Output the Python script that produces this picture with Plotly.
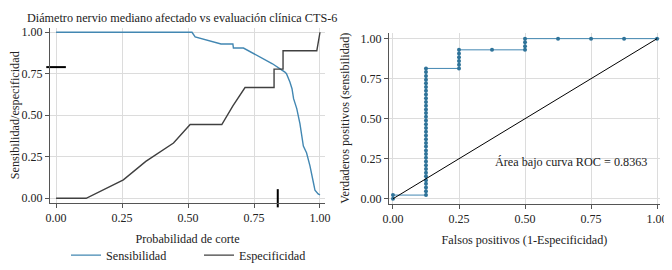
import plotly.graph_objects as go

# ---- Left panel data: sensitivity / specificity vs cutoff probability ----
sens_cut = [0.0, 0.515, 0.527, 0.625, 0.67, 0.672, 0.71, 0.82, 0.867, 0.873, 0.886, 0.894,
            0.9, 0.912, 0.924, 0.93, 0.937, 0.949, 0.962, 0.975, 0.981, 0.993, 1.0]
sens_val = [1.0, 1.0, 0.972, 0.929, 0.929, 0.905, 0.905, 0.81, 0.76, 0.75, 0.70, 0.66,
            0.60, 0.54, 0.45, 0.39, 0.314, 0.274, 0.195, 0.095, 0.048, 0.026, 0.02]

spec_cut = [0.0, 0.114, 0.255, 0.34, 0.445, 0.508, 0.628, 0.67, 0.716, 0.826, 0.826,
            0.86, 0.86, 0.988, 1.0]
spec_val = [0.0, 0.0, 0.111, 0.222, 0.333, 0.444, 0.444, 0.556, 0.667, 0.667, 0.778,
            0.778, 0.889, 0.889, 1.0]

optimal_cut = 0.84
crossing_value = 0.79

# ---- Right panel data: ROC curve ----
roc_fpr = [0.0, 0.0,
           0.125, 0.125, 0.125, 0.125, 0.125, 0.125, 0.125, 0.125, 0.125, 0.125,
           0.125, 0.125, 0.125, 0.125, 0.125, 0.125, 0.125, 0.125, 0.125, 0.125,
           0.125, 0.125, 0.125, 0.125, 0.125, 0.125, 0.125, 0.125, 0.125, 0.125,
           0.125, 0.125, 0.125, 0.125, 0.125,
           0.25, 0.25, 0.25, 0.25, 0.25, 0.25,
           0.375,
           0.5, 0.5, 0.5, 0.5,
           0.625, 0.75, 0.875, 1.0]
roc_tpr = [0.0, 0.023,
           0.023, 0.047, 0.070, 0.093, 0.116, 0.140, 0.163, 0.186, 0.209, 0.233,
           0.256, 0.279, 0.302, 0.326, 0.349, 0.372, 0.395, 0.419, 0.442, 0.465,
           0.488, 0.512, 0.535, 0.558, 0.581, 0.605, 0.628, 0.651, 0.674, 0.698,
           0.721, 0.744, 0.767, 0.791, 0.814,
           0.814, 0.837, 0.860, 0.884, 0.907, 0.930,
           0.930,
           0.930, 0.953, 0.977, 1.0,
           1.0, 1.0, 1.0, 1.0]
ref_x = [0.0, 1.0]
ref_y = [0.0, 1.0]
auc_label = "Área bajo curva ROC = 0.8363"

tick_vals = [0.0, 0.25, 0.5, 0.75, 1.0]
tick_text = ["0.00", "0.25", "0.50", "0.75", "1.00"]

title_text = "Diámetro nervio mediano afectado vs evaluación clínica CTS-6"

FONT = "Liberation Serif"
BLUE = "#4287b2"
BLUE_DARK = "#2f7399"
GRAY = "#404040"
GRID = "#dcdcdc"
AXIS = "#555555"
TXT = "#222222"

# page has an 8px body margin: figure is placed at (8, 8) in the window
OFF = 8
W, H = 672 - OFF, 270 - OFF


def px(x):
    return (x - OFF) / W


def py(y):
    return 1 - (y - OFF) / H


fig = go.Figure()

fig.add_trace(go.Scatter(x=sens_cut, y=sens_val, mode="lines", name="Sensibilidad",
                         line=dict(color=BLUE, width=1.4), xaxis="x", yaxis="y"))
fig.add_trace(go.Scatter(x=spec_cut, y=spec_val, mode="lines", name="Especificidad",
                         line=dict(color=GRAY, width=1.4), xaxis="x", yaxis="y"))
# marks for the optimal cutoff and crossing value
fig.add_trace(go.Scatter(x=[0.0], y=[crossing_value], mode="markers", showlegend=False,
                         marker=dict(symbol="line-ew", size=14, line=dict(color="black", width=2)),
                         cliponaxis=False, xaxis="x", yaxis="y", hoverinfo="skip"))
fig.add_trace(go.Scatter(x=[optimal_cut], y=[0.0], mode="markers", showlegend=False,
                         marker=dict(symbol="line-ns", size=13, line=dict(color="black", width=2)),
                         cliponaxis=False, xaxis="x", yaxis="y", hoverinfo="skip"))

fig.add_trace(go.Scatter(x=roc_fpr, y=roc_tpr, mode="lines+markers", showlegend=False,
                         line=dict(color=BLUE, width=1),
                         marker=dict(color=BLUE_DARK, size=4),
                         cliponaxis=False, xaxis="x2", yaxis="y2"))
fig.add_trace(go.Scatter(x=ref_x, y=ref_y, mode="lines", showlegend=False,
                         line=dict(color="black", width=1), xaxis="x2", yaxis="y2"))

axis_common = dict(
    tickvals=tick_vals, ticktext=tick_text, showgrid=True, gridcolor=GRID, gridwidth=1,
    zeroline=False, showline=True, linecolor=AXIS, linewidth=1,
    ticks="outside", ticklen=4, tickcolor=AXIS, automargin=False,
    tickfont=dict(family=FONT, size=12, color=TXT),
)
title_font = dict(family=FONT, size=12.2, color=TXT)

fig.update_layout(
    template="none",
    width=W, height=H,
    margin=dict(l=0, r=0, t=0, b=0),
    paper_bgcolor="white", plot_bgcolor="white",
    font=dict(family=FONT, size=12, color=TXT),
    xaxis=dict(domain=[px(50), px(325)], range=[-0.023, 1.019], anchor="y",
               title=dict(text="Probabilidad de corte", font=title_font, standoff=10),
               **axis_common),
    yaxis=dict(domain=[py(205), py(28)], range=[-0.027, 1.027], anchor="x",
               title=dict(text="Sensibilidad/especificidad", font=title_font, standoff=8),
               **axis_common),
    xaxis2=dict(domain=[px(389), px(660)], range=[-0.015, 1.011], anchor="y2",
                title=dict(text="Falsos positivos (1-Especificidad)", font=title_font, standoff=10),
                **axis_common),
    yaxis2=dict(domain=[py(206), py(33)], range=[-0.031, 1.037], anchor="x2",
                title=dict(text="Verdaderos positivos (sensibilidad)", font=title_font, standoff=8),
                **axis_common),
    showlegend=True,
    legend=dict(orientation="h", x=px(66), xanchor="left", y=py(258), yanchor="middle",
                font=dict(family=FONT, size=12.2, color=TXT), entrywidth=88, entrywidthmode="pixels",
                bgcolor="rgba(0,0,0,0)", borderwidth=0),
    annotations=[
        dict(text=title_text, x=px(182), y=py(9), xref="paper", yref="paper",
             showarrow=False, font=dict(family=FONT, size=12.2, color=TXT),
             xanchor="center", yanchor="top"),
        dict(text=auc_label, x=0.675, y=0.23, xref="x2", yref="y2", showarrow=False,
             font=dict(family=FONT, size=12.2, color=TXT), xanchor="center", yanchor="middle"),
    ],
)

fig.write_html("out.html")
